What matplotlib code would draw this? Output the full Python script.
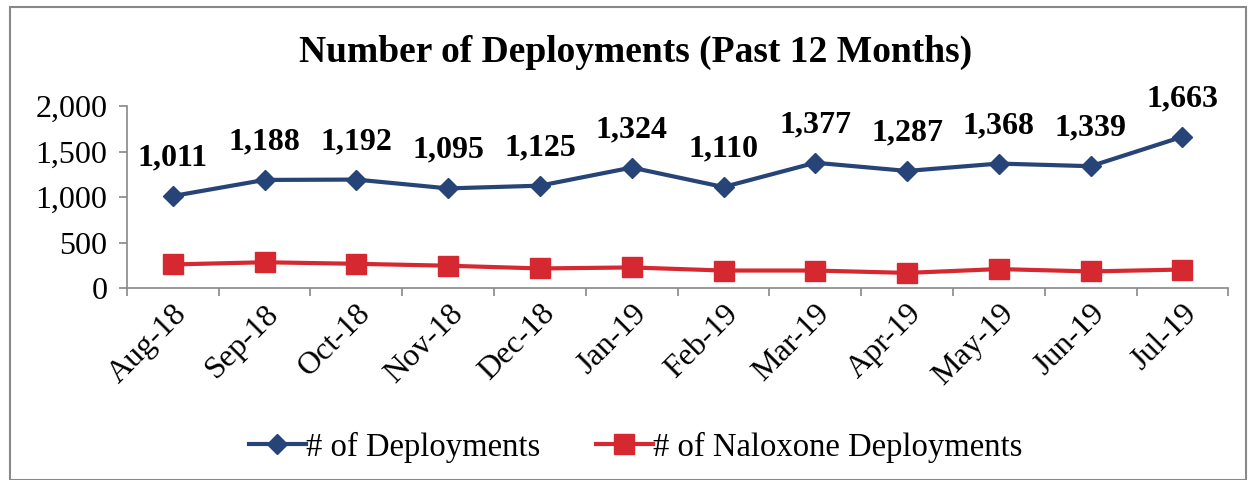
import numpy as np
import matplotlib.pyplot as plt
from matplotlib.patches import Rectangle
from matplotlib.ticker import FuncFormatter

months = ['Aug-18', 'Sep-18', 'Oct-18', 'Nov-18', 'Dec-18', 'Jan-19',
          'Feb-19', 'Mar-19', 'Apr-19', 'May-19', 'Jun-19', 'Jul-19']
deployments = [1011, 1188, 1192, 1095, 1125, 1324, 1110, 1377, 1287, 1368, 1339, 1663]
naloxone = [259, 283, 266, 245, 215, 226, 192, 192, 166, 208, 182, 203]

blue = '#264478'
red = '#D62830'

plt.rcParams['font.family'] = ['Liberation Serif', 'DejaVu Serif']

fig = plt.figure(figsize=(12.56, 4.8), dpi=100)
ax = fig.add_axes([0.101, 0.40, 0.877, 0.379])

x = np.arange(len(months))
ax.plot(x, deployments, color=blue, lw=3, marker='D', ms=10, label='# of Deployments')
ax.plot(x, naloxone, color=red, lw=3, marker='s', ms=14, label='# of Naloxone Deployments')

for xi, v in zip(x, deployments):
    ax.annotate(f'{v:,}', (xi, v), xytext=(0, 17), textcoords='offset points',
                ha='center', va='bottom', fontsize=23, fontweight='bold')

ax.set_xlim(-0.5, len(months) - 0.5)
ax.set_ylim(0, 2000)
ax.set_yticks([0, 500, 1000, 1500, 2000])
ax.yaxis.set_major_formatter(FuncFormatter(lambda v, p: f'{int(v):,}'))
ax.set_xticks(x)
ax.set_xticklabels(months, rotation=45, ha='right', rotation_mode='anchor', fontsize=23)
ax.set_xticks(np.arange(-0.5, len(months)), minor=True)
ax.tick_params(axis='x', which='major', length=0, pad=8)
ax.tick_params(axis='x', which='minor', length=6, color='#888888', width=1.2)
ax.tick_params(axis='y', labelsize=23, length=6, color='#888888', width=1.2, pad=8)

for s in ['top', 'right']:
    ax.spines[s].set_visible(False)
for s in ['left', 'bottom']:
    ax.spines[s].set_color('#888888')
    ax.spines[s].set_linewidth(1.2)

fig.text(0.506, 0.89, 'Number of Deployments (Past 12 Months)', ha='center', va='center',
         fontsize=27, fontweight='bold')

fig.legend(loc='center', bbox_to_anchor=(0.506, 0.068), ncol=2, frameon=False,
           fontsize=23.5, handlelength=1.75, handletextpad=0.0, columnspacing=1.7)

fig.patches.append(Rectangle((0.008, 0.0), 0.984, 0.985, transform=fig.transFigure,
                             fill=False, edgecolor='#888888', lw=1.5))

fig.savefig('out.png', dpi=100)
